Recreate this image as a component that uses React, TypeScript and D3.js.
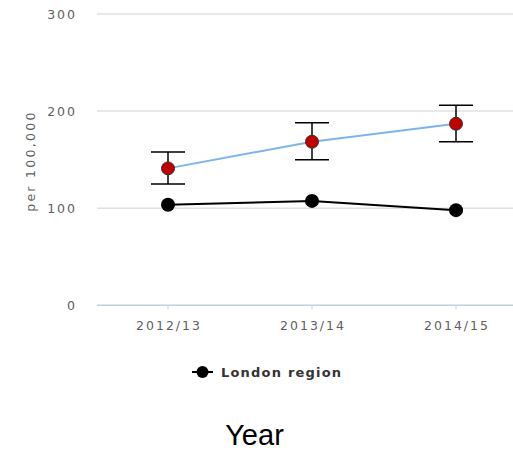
import React from "react";
import * as d3 from "d3";

const categories = ["2012/13", "2013/14", "2014/15"];
const areaValues = [141, 168.5, 187];
const areaLower = [125, 150, 168.5];
const areaUpper = [158, 188, 206];
const londonValues = [103.5, 107.5, 98];
const yTicks = [0, 100, 200, 300];
const legendLabel = "London region";

const W = 513;
const H = 451;

export default function App() {
  const x = d3.scaleBand<string>().domain(categories).range([96, 528]);
  const cx = (c: string) => (x(c) as number) + x.bandwidth() / 2;
  const y = d3.scaleLinear().domain([0, 300]).range([305.3, 14]);

  const line = d3
    .line<number>()
    .x((_, i) => cx(categories[i]))
    .y((v) => y(v));

  const tickFont = "'DejaVu Sans', Verdana, sans-serif";

  return (
    <svg
      width={W}
      height={H}
      style={{ position: "absolute", left: 0, top: 0, background: "#fff" }}
    >
      {/* horizontal grid */}
      {yTicks.map((t) => (
        <g key={t}>
          {t > 0 && (
            <line x1={97} x2={W} y1={y(t)} y2={y(t)} stroke="#e0e0e0" strokeWidth={1.5} />
          )}
          <text
            x={77}
            y={y(t)}
            textAnchor="end"
            dominantBaseline="central"
            fontFamily={tickFont}
            fontSize={12.5}
            letterSpacing={2}
            fill="#606060"
          >
            {t}
          </text>
        </g>
      ))}

      {/* x axis */}
      <line x1={97} x2={W} y1={y(0)} y2={y(0)} stroke="#c0d0e0" strokeWidth={1.5} />
      {categories.map((c) => (
        <g key={c}>
          <line x1={cx(c)} x2={cx(c)} y1={y(0)} y2={y(0) + 4} stroke="#c0d0e0" strokeWidth={1} />
          <text
            x={cx(c) + 1}
            y={325}
            textAnchor="middle"
            dominantBaseline="central"
            fontFamily={tickFont}
            fontSize={12.5}
            letterSpacing={2}
            fill="#606060"
          >
            {c}
          </text>
        </g>
      ))}

      {/* y axis title */}
      <text
        transform={`translate(30,161) rotate(-90)`}
        textAnchor="middle"
        dominantBaseline="central"
        fontFamily={tickFont}
        fontSize={12.5}
        letterSpacing={2.3}
        fill="#606060"
      >
        per 100,000
      </text>

      {/* London region series */}
      <path d={line(londonValues) ?? ""} fill="none" stroke="#000" strokeWidth={2} />
      {londonValues.map((v, i) => (
        <circle key={i} cx={cx(categories[i])} cy={y(v)} r={7} fill="#000" />
      ))}

      {/* area series with confidence intervals */}
      <path d={line(areaValues) ?? ""} fill="none" stroke="#7cb5ec" strokeWidth={2} />
      {areaValues.map((v, i) => {
        const px = cx(categories[i]);
        return (
          <g key={i}>
            <line x1={px} x2={px} y1={y(areaUpper[i])} y2={y(areaLower[i])} stroke="#000" strokeWidth={1.5} />
            <line x1={px - 17} x2={px + 17} y1={y(areaUpper[i])} y2={y(areaUpper[i])} stroke="#000" strokeWidth={1.5} />
            <line x1={px - 17} x2={px + 17} y1={y(areaLower[i])} y2={y(areaLower[i])} stroke="#000" strokeWidth={1.5} />
            <circle cx={px} cy={y(v)} r={6.5} fill="#c00000" stroke="#333" strokeWidth={1} />
          </g>
        );
      })}

      {/* legend */}
      <g>
        <line x1={192} x2={213} y1={372} y2={372} stroke="#000" strokeWidth={2} />
        <circle cx={202.5} cy={372} r={6} fill="#000" />
        <text
          x={221}
          y={372}
          dominantBaseline="central"
          fontFamily={tickFont}
          fontSize={13}
          fontWeight="bold"
          letterSpacing={1.2}
          fill="#333"
        >
          {legendLabel}
        </text>
      </g>

      {/* x axis title */}
      <text
        x={254.5}
        y={445}
        textAnchor="middle"
        fontFamily="'Liberation Sans', Arial, sans-serif"
        fontSize={29}
        fill="#000"
      >
        Year
      </text>
    </svg>
  );
}
